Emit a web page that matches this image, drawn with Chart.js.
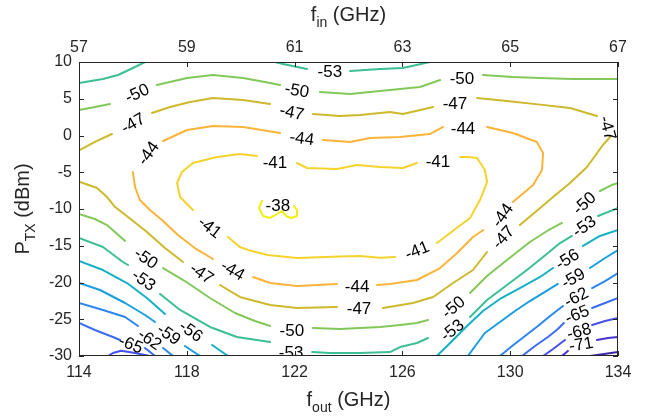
<!DOCTYPE html>
<html>
<head>
<meta charset="utf-8">
<script src="https://cdn.jsdelivr.net/npm/chart.js@4.4.1/dist/chart.umd.min.js"></script>
<style>
  html, body { margin: 0; padding: 0; background: #fff; }
  #wrap { width: 652px; height: 420px; }
</style>
</head>
<body>
<div id="wrap"><canvas id="chart" width="652" height="420"></canvas></div>
<script>
// contour lines, [f_out (GHz), P_TX (dBm)]; null = gap left for a label
const c38 = [[120.79,-8.91],[120.68,-9.86],[120.83,-10.95],[121.09,-11.22],[121.35,-10.68],[121.53,-10.27],[121.68,-10.95],[121.87,-11.22],[122.09,-10.95],[122.09,-10.14],[121.98,-9.59]];

const c41 = [
  [122.09,-3.74],[122.46,-4.42],[123.57,-4.56],[124.32,-4.01],[125.17,-4.29],[126.02,-4.42],[126.54,-3.74], null,
  [128.14,-2.93],[128.43,-2.93],[128.77,-3.06],[129.06,-4.69],[129.14,-6.33],[128.88,-8.78],[128.51,-11.22],[127.77,-13.27],[127.28,-14.63], null,
  [125.73,-16.53],[125.17,-16.62],[124.43,-16.4],[123.68,-16.45],[122.9,-16.55],[122.09,-16.67],[121.0,-16.26],[120.3,-15.6],[119.97,-15.17],[119.53,-13.81], null,
  [118.23,-10.14],[117.75,-8.37],[117.64,-6.46],[117.82,-4.97],[118.23,-3.74],[119.12,-2.93],[119.97,-2.52],[120.6,-2.79]
];

const c44 = [
  [117.12,-0.75],[118.01,0.75],[118.97,1.29],[120.09,1.16],[121.46,0.34], null,
  [123.05,-0.61],[124.06,-0.88],[124.8,-0.34],[125.91,-0.2],[127.02,0.2],[127.51,1.16], null,
  [129.14,1.16],[130.1,0.34],[130.99,-0.88],[131.22,-2.38],[131.18,-4.69],[130.85,-6.73],[130.1,-9.05], null,
  [129.0,-12.86],[128.62,-13.81],[128.03,-15.99],[127.4,-18.03],[126.54,-19.66],[125.54,-20.2],[125.06,-20.34], null,
  [123.57,-20.2],[122.83,-20.34],[122.09,-20.48],[121.09,-20.07],[120.46,-19.25], null,
  [118.97,-16.8],[118.3,-15.31],[117.67,-13.54],[117.12,-11.63],[116.63,-10.14],[116.26,-8.78],[116.08,-7.01],[116.0,-4.97]
];

const c47 = [
  [114.04,-1.97],[114.59,-0.88],[115.22,0.2], null,
  [116.71,3.06],[117.38,3.88],[118.12,4.56],[118.97,5.1],[120.09,4.83],[121.09,4.29], null,
  [122.68,2.93],[123.68,2.65],[124.43,2.79],[125.54,3.2],[126.02,2.93],[127.14,3.88], null,
  [128.77,5.1],[129.88,4.69],[131.11,4.2],[132.22,3.74],[133.22,2.65], null,
  [133.74,-0.07],[133.44,-1.29],[132.85,-4.29],[132.22,-6.46],[131.59,-8.37],[131.11,-9.86],[130.36,-12.18], null,
  [129.14,-15.85],[128.62,-18.3],[127.88,-20.07],[127.14,-21.97],[126.39,-22.79],[125.28,-23.47], null,
  [123.57,-23.33],[122.09,-23.47],[121.09,-23.06],[119.97,-21.97],[119.23,-20.34], null,
  [117.86,-17.21],[117.19,-15.31],[116.52,-13.13],[115.82,-11.09],[115.34,-9.73],[115.04,-8.37],[114.67,-7.14],[114.04,-6.33]
];

const c50 = [
  [114,3.47],[114.59,3.88],[115.15,4.29], null,
  [116.89,6.87],[118.01,7.82],[118.97,8.23],[120.09,7.82],[121.09,7.14],[121.46,6.87], null,
  [122.94,5.92],[124.06,5.65],[124.8,5.92],[125.91,6.33],[126.65,6.6],[127.4,7.55], null,
  [128.99,8.23],[130.1,7.96],[131.11,7.82],[132.33,7.69],[134,7.69], null,
  [114,-10.68],[114.59,-11.36],[115.04,-12.18],[115.71,-14.35], null,
  [117.12,-18.03],[117.93,-19.8],[118.86,-22.11],[119.79,-24.15],[120.53,-25.24],[121.09,-25.92], null,
  [122.68,-26.19],[123.68,-26.33],[125.17,-26.05],[125.91,-25.78],[126.54,-25.51],[126.95,-25.1], null,
  [128.51,-21.43],[129.14,-19.12],[129.88,-16.94],[130.73,-14.49],[131.37,-12.99],[131.92,-11.9], null,
  [133.33,-7.55],[133.78,-6.73],[134,-6.46]
];

const c53 = [
  [114,7.14],[114.89,7.69],[115.45,8.23],[116,9.18],[116.45,10], null,
  [121.27,10],[121.57,9.73],[122.46,9.05], null,
  [124.06,8.78],[125.17,9.05],[126.02,9.18],[127.02,10], null,
  [114,-13.95],[114.89,-15.17],[115.63,-17.21],[115.82,-17.62], null,
  [117.01,-21.56],[117.75,-23.74],[118.86,-26.05],[119.86,-27.41],[121.09,-28.1], null,
  [122.65,-29.46],[123.31,-29.59],[124.43,-29.59],[125.54,-29.46],[125.91,-28.78],[126.54,-28.23],[126.95,-27.55], null,
  [128.51,-24.69],[129.14,-22.38],[129.88,-20.34],[130.62,-18.3],[131.22,-16.53],[131.85,-14.63],[132.29,-13.67], null,
  [133.26,-10.95],[134,-9.86]
];

const c56 = [
  [114,-17.07],[114.89,-18.3],[115.78,-20.07],[116.52,-22.11],[117.19,-24.29], null,
  [118.94,-28.5],[119.53,-30], null,
  [127.28,-30],[127.77,-28.23],[128.4,-25.92],[128.99,-23.88],[129.62,-22.24],[130.36,-20.75],[131.11,-19.25],[131.59,-18.03], null,
  [132.7,-15.03],[133.33,-13.67],[134,-12.86]
];

const c59 = [
  [114,-20.07],[114.78,-21.02],[115.71,-22.79],[116.45,-24.42],[116.82,-25.37], null,
  [117.93,-28.64],[118.49,-30], null,
  [128.43,-30],[128.73,-28.5],[129.06,-26.87],[129.62,-25.37],[130.18,-23.88],[130.73,-22.52],[131.29,-21.29],[131.77,-20.2], null,
  [132.96,-18.03],[133.52,-16.67],[134,-15.58]
];

const c62 = [
  [114,-22.79],[114.89,-23.74],[115.71,-24.69],[116.19,-25.92], null,
  [117.12,-28.91],[117.49,-30], null,
  [129.62,-30],[130.07,-28.64],[130.55,-27.28],[131.03,-25.92],[131.48,-24.56],[131.96,-23.2], null,
  [133.04,-20.75],[133.52,-19.8],[134,-18.71]
];

const c65 = [
  [114,-25.51],[114.59,-26.46],[115.26,-27.41],[115.52,-27.82], null,
  [116.45,-28.91],[116.82,-30], null,
  [130.44,-30],[130.92,-28.64],[131.4,-27.41],[131.77,-26.33],[131.99,-25.51], null,
  [133.04,-23.47],[133.52,-22.79],[134,-22.11]
];

const c68 = [
  [115.08,-30],[115.26,-29.59],[115.56,-29.28],[116.08,-29.59],[116.63,-30], null,
  [131.22,-30],[131.59,-29.05],[132.03,-27.82], null,
  [133.04,-25.78],[133.52,-25.24],[134,-24.83]
];

const c71 = [
  [131.92,-30],[132.14,-29.32], null,
  [133.22,-27.82],[133.63,-27.55],[134,-27.41]
];

const c74 = [[132.96,-30],[133.48,-29.73],[134,-29.46]];

const contours = [[-38, c38], [-41, c41], [-44, c44], [-47, c47], [-50, c50], [-53, c53],
  [-56, c56], [-59, c59], [-62, c62], [-65, c65], [-68, c68], [-71, c71], [-74, c74]];

const lineColors = ['#f2ee10', '#f6d32c', '#fbb43a', '#cdb92b', '#82c85a', '#3cbf91',
  '#16b0c4', '#1a9ee0', '#2d86ec', '#3b6cf2', '#4550ec', '#4734d2', '#3d26a8'];

// contour labels: [level, f_out, P_TX, angle deg]
const labelPos = [
  [-53, 123.31, 8.7, 0],
  [-50, 116.15, 5.78, -25], [-50, 122.09, 6.19, 10], [-50, 128.21, 7.82, 0],
  [-47, 116.0, 1.7, -30], [-47, 121.9, 3.2, 12], [-47, 127.95, 4.42, 0], [-47, 133.63, 1.02, 75],
  [-44, 116.56, -2.38, -55], [-44, 122.27, -0.34, 8], [-44, 128.25, 1.02, 0], [-44, 129.7, -10.82, -55],
  [-41, 121.27, -3.61, 0], [-41, 127.32, -3.47, 0], [-41, 126.54, -15.58, -22], [-41, 118.86, -12.45, 38],
  [-38, 121.38, -9.46, 0],
  [-44, 124.32, -20.48, 0], [-44, 119.71, -18.3, 30],
  [-47, 129.73, -13.81, -48], [-47, 124.39, -23.47, 0], [-47, 118.56, -18.71, 35],
  [-50, 116.49, -16.67, 35], [-50, 121.9, -26.46, 0], [-50, 127.88, -23.33, -40], [-50, 132.74, -9.18, -42],
  [-53, 116.41, -19.66, 35], [-53, 121.87, -29.46, 0], [-53, 127.84, -26.46, -38], [-53, 132.74, -12.31, -35],
  [-56, 118.16, -26.6, 35], [-56, 132.11, -16.8, -32],
  [-59, 117.34, -27.01, 35], [-59, 132.33, -19.39, -30],
  [-62, 116.63, -27.69, 35], [-62, 132.44, -21.97, -28],
  [-65, 115.93, -28.37, 22], [-65, 132.48, -24.29, -22],
  [-68, 132.55, -26.6, -15],
  [-71, 132.63, -28.37, -10]
];

const FONT = '"Liberation Sans", Arial, Helvetica, sans-serif';
const AXIS_COLOR = '#262626';

const datasets = contours.map(([lv, pts], i) => ({
  label: String(lv),
  data: pts.map(p => p ? { x: p[0], y: p[1] } : { x: null, y: null }),
  showLine: true,
  borderColor: lineColors[i],
  borderWidth: 2,
  borderJoinStyle: 'round',
  borderCapStyle: 'round',
  pointRadius: 0,
  spanGaps: false,
}));

function drawSubTitle(ctx, main, sub, rest, cx, base) {
  const big = '20px ' + FONT, small = '14px ' + FONT;
  ctx.font = big;
  const w1 = ctx.measureText(main).width, w3 = ctx.measureText(rest).width;
  ctx.font = small;
  const w2 = ctx.measureText(sub).width;
  let x = cx - (w1 + w2 + w3) / 2;
  ctx.textAlign = 'left';
  ctx.textBaseline = 'alphabetic';
  ctx.font = big; ctx.fillText(main, x, base); x += w1;
  ctx.font = small; ctx.fillText(sub, x, base + 6); x += w2;
  ctx.font = big; ctx.fillText(rest, x, base);
}

const decor = {
  id: 'decor',
  afterDatasetsDraw(chart) {
    const { ctx, chartArea: a, scales: { x, y } } = chart;
    ctx.save();
    ctx.beginPath();
    ctx.rect(a.left, a.top, a.right - a.left, a.bottom - a.top);
    ctx.clip();
    ctx.font = '17px ' + FONT;
    ctx.fillStyle = '#000';
    ctx.textAlign = 'center';
    ctx.textBaseline = 'middle';
    for (const [v, lx, ly, ang] of labelPos) {
      ctx.save();
      ctx.translate(x.getPixelForValue(lx), y.getPixelForValue(ly));
      ctx.rotate(ang * Math.PI / 180);
      ctx.fillText(String(v), 0, 1);
      ctx.restore();
    }
    ctx.restore();
  },
  afterDraw(chart) {
    const { ctx, chartArea: a, scales: { x, y } } = chart;
    ctx.save();
    ctx.strokeStyle = AXIS_COLOR;
    ctx.lineWidth = 1;
    ctx.strokeRect(a.left + 0.5, a.top + 0.5, a.right - a.left - 1, a.bottom - a.top - 1);
    ctx.beginPath();
    const tl = 5;
    for (const t of x.ticks) {
      const px = Math.round(x.getPixelForValue(t.value)) + 0.5;
      ctx.moveTo(px, a.bottom); ctx.lineTo(px, a.bottom - tl);
      ctx.moveTo(px, a.top); ctx.lineTo(px, a.top + tl);
    }
    for (const t of y.ticks) {
      const py = Math.round(y.getPixelForValue(t.value)) + 0.5;
      ctx.moveTo(a.left, py); ctx.lineTo(a.left + tl, py);
      ctx.moveTo(a.right, py); ctx.lineTo(a.right - tl, py);
    }
    ctx.stroke();

    ctx.fillStyle = AXIS_COLOR;
    const cx = (a.left + a.right) / 2;
    drawSubTitle(ctx, 'f', 'in', ' (GHz)', cx, 21);
    drawSubTitle(ctx, 'f', 'out', ' (GHz)', cx, 406);
    ctx.translate(29, (a.top + a.bottom) / 2);
    ctx.rotate(-Math.PI / 2);
    drawSubTitle(ctx, 'P', 'TX', ' (dBm)', 0, 0);
    ctx.restore();
  }
};

const tickFont = { family: FONT, size: 16 };

new Chart(document.getElementById('chart'), {
  type: 'scatter',
  data: { datasets },
  options: {
    responsive: false,
    animation: false,
    events: [],
    layout: { padding: { left: 0, right: 34, top: 0, bottom: 0 } },
    plugins: { legend: { display: false }, tooltip: { enabled: false } },
    scales: {
      x: {
        type: 'linear', position: 'bottom', min: 114, max: 134,
        ticks: { stepSize: 4, font: tickFont, color: AXIS_COLOR, padding: 7, maxRotation: 0 },
        grid: { display: false, drawTicks: false },
        border: { display: false },
        afterFit: s => { s.height = 64; }
      },
      x2: {
        type: 'linear', position: 'top', min: 57, max: 67,
        ticks: { stepSize: 2, font: tickFont, color: AXIS_COLOR, padding: 5, maxRotation: 0 },
        grid: { display: false, drawTicks: false },
        border: { display: false },
        afterFit: s => { s.height = 62; }
      },
      y: {
        type: 'linear', position: 'left', min: -30, max: 10,
        ticks: { stepSize: 5, font: tickFont, color: AXIS_COLOR, padding: 7 },
        grid: { display: false, drawTicks: false },
        border: { display: false },
        afterFit: s => { s.width = 79; }
      }
    }
  },
  plugins: [decor]
});
</script>
</body>
</html>
